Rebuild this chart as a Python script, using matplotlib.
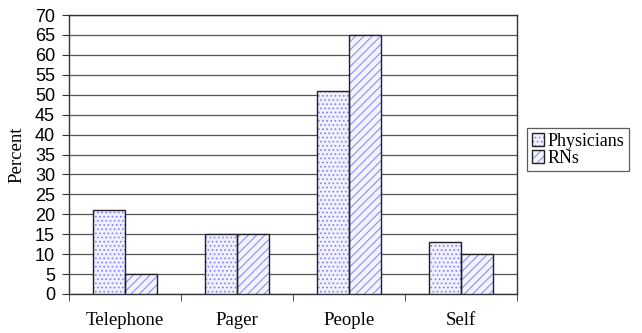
import matplotlib
matplotlib.use("Agg")
import matplotlib.pyplot as plt
import numpy as np
from matplotlib.patches import Patch
from matplotlib.legend_handler import HandlerTuple

categories = ["Telephone", "Pager", "People", "Self"]
physicians = [21, 15, 51, 13]
rns = [5, 15, 65, 10]
yticks = list(range(0, 75, 5))

plt.rcParams['hatch.linewidth'] = 0.7

fig = plt.figure(figsize=(6.42, 3.33), dpi=100)
ax = fig.add_axes([69 / 642, 1 - 294 / 333, (517 - 69) / 642, (294 - 15) / 333])

x = np.arange(len(categories))
w = 0.29
hc = '#8080ff'
# hatched fills (hatch drawn in edge colour), then black outlines on top
ax.bar(x - w / 2, physicians, w, facecolor='#f0f0ff', edgecolor=hc, linewidth=0,
       hatch='....', zorder=3)
ax.bar(x + w / 2, rns, w, facecolor='#f4f4ff', edgecolor=hc, linewidth=0,
       hatch='////', zorder=3)
ax.bar(x - w / 2, physicians, w, facecolor='none', edgecolor='#222222', linewidth=1.0, zorder=4)
ax.bar(x + w / 2, rns, w, facecolor='none', edgecolor='#222222', linewidth=1.0, zorder=4)

ax.set_xlim(-0.5, len(categories) - 0.5)
ax.set_ylim(0, 70)
ax.set_yticks(yticks)
ax.set_yticklabels([str(v) for v in yticks], fontfamily='Liberation Sans', fontsize=13)
ax.yaxis.grid(True, color='#555555', linewidth=0.9, zorder=0)
ax.set_axisbelow(True)

ax.set_xticks(x)
ax.set_xticklabels(categories, fontfamily='Liberation Serif', fontsize=13.5)
ax.tick_params(axis='x', length=0, pad=13)
ax.set_xticks(np.arange(-0.5, len(categories), 1), minor=True)
ax.tick_params(axis='x', which='minor', length=5, color='#333333')
ax.tick_params(axis='y', length=5, color='#333333', pad=5)

ax.set_ylabel("Percent", fontfamily='Liberation Serif', fontsize=13.5, labelpad=7)

for s in ax.spines.values():
    s.set_color('#333333')
    s.set_linewidth(1.0)

h1 = (Patch(facecolor='#f0f0ff', edgecolor=hc, hatch='....', linewidth=0),
      Patch(facecolor='none', edgecolor='#222222', linewidth=1.0))
h2 = (Patch(facecolor='#f4f4ff', edgecolor=hc, hatch='////', linewidth=0),
      Patch(facecolor='none', edgecolor='#222222', linewidth=1.0))
leg = fig.legend([h1, h2], ["Physicians", "RNs"], loc='upper left',
                 bbox_to_anchor=(527 / 642, 1 - 128 / 333),
                 prop={'family': 'Liberation Serif', 'size': 13},
                 frameon=True, fancybox=False, edgecolor='#333333',
                 handlelength=0.7, handleheight=0.7, handletextpad=0.2,
                 borderpad=0.25, labelspacing=0.0, borderaxespad=0,
                 handler_map={tuple: HandlerTuple(ndivide=1, pad=0)})
leg.get_frame().set_linewidth(0.9)

fig.savefig("out.png", dpi=100)
